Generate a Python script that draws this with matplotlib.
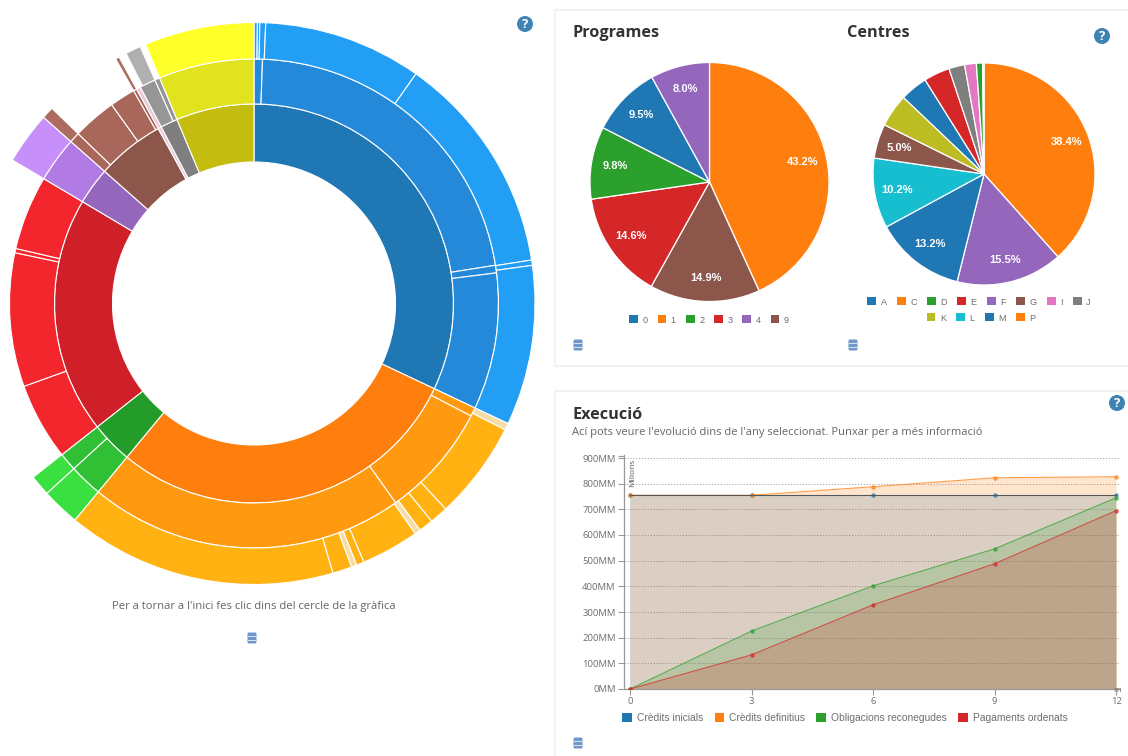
import matplotlib
matplotlib.use("Agg")
import matplotlib.pyplot as plt
from matplotlib.patches import Rectangle, Circle, FancyBboxPatch

W, H = 1128, 756
plt.rcParams['font.family'] = ['Open Sans', 'DejaVu Sans']

# ---------- data ----------
C = dict(blue1='#1f77b4', blue2='#2389d8', blue3='#239ef5',
         or1='#ff7f0e', or2='#ff9a10', or3='#ffb212', orp='#f8dca8',
         gr1='#249c2a', gr2='#30bf35', gr3='#3adf40',
         re1='#cf1f28', re2='#f2262c',
         pu1='#9467bd', pu2='#b27be3', pu3='#c68ffa',
         br1='#8c564b', br2='#a8675a', br3='#ac6d60',
         pk='#ecc9de', gy1='#7f7f7f', gy2='#969696', gy3='#b0b0b0',
         ye1='#c4bd10', ye2='#e2e31f', ye3='#ffff29', gap='none')

ring1_sizes = [115.3, 104.3, 12.2, 68.9, 10.8, 19.8, 1.0, 5.0, 22.7]
ring1_colors = ['blue1', 'or1', 'gr1', 're1', 'pu1', 'br1', 'pk', 'gy1', 'ye1']

ring2_sizes = [2, 79, 1.8, 32.5, 2.1, 27.2, 75, 7.9, 4.3, 18.4, 31.8, 1, 17.7,
               10.8, 2.5, 10.4, 6.1, 0.8, 1.0, 3.8, 1.2, 22.7]
ring2_colors = ['blue2'] * 4 + ['or2'] * 3 + ['gr2'] * 2 + ['re2'] * 4 + \
               ['pu2'] + ['br2'] * 4 + ['pk'] + ['gy2'] * 2 + ['ye2']

ring3_sizes = [.7, .5, 1.2, 32.8, 45.9, 1.1, 33.1,
               1.4, 20.3, 3.8, 3, 1.2, 12, 1.6, 1.1, 4, 55.9,
               7.9, 4.3, 68.9, 10.8, 2.5, 16.5, 0.8, 1.6, 3.2, 1.2, 22.7]
ring3_colors = ['blue3'] * 7 + ['orp', 'or3', 'or3', 'or3', 'orp', 'or3', 'or3', 'orp', 'or3', 'or3'] + \
               ['gr3'] * 2 + ['gap', 'pu3', 'br3', 'gap', 'br3', 'gap', 'gy3', 'gap', 'ye3']

prog_labels = ['1', '9', '3', '2', '0', '4']
prog_values = [43.2, 14.9, 14.6, 9.8, 9.5, 8.0]
prog_colors = ['#ff7f0e', '#8c564b', '#d62728', '#2ca02c', '#1f77b4', '#9467bd']
prog_legend = ['0', '1', '2', '3', '4', '9']

cent_labels = ['P', 'F', 'A', 'L', 'G', 'K', 'M', 'E', 'J', 'I', 'D', 'C']
cent_values = [38.4, 15.5, 13.2, 10.2, 5.0, 4.8, 4.0, 3.8, 2.3, 1.7, 0.9, 0.2]
cent_colors = ['#ff7f0e', '#9467bd', '#1f77b4', '#17becf', '#8c564b', '#bcbd22',
               '#1f77b4', '#d62728', '#7f7f7f', '#e377c2', '#2ca02c', '#ff7f0e']
cent_row1 = ['A', 'C', 'D', 'E', 'F', 'G', 'I', 'J']
cent_row2 = ['K', 'L', 'M', 'P']

months = [0, 3, 6, 9, 12]
inicials = [755, 755, 755, 755, 755]
definitius = [755, 755, 788, 823, 827]
obligacions = [0, 226, 402, 546, 745]
pagaments = [0, 133, 328, 488, 695]
exec_ticks = [0, 100, 200, 300, 400, 500, 600, 700, 800, 900]
exec_names = ['Crèdits inicials', 'Crèdits definitius', 'Obligacions reconegudes', 'Pagaments ordenats']
exec_colors = ['#1f77b4', '#ff7f0e', '#2ca02c', '#d62728']

GREY = '#6e6e6e'
DARK = '#333333'

fig = plt.figure(figsize=(W / 100, H / 100), dpi=100, facecolor='white')


def px_axes(x0, y0, x1, y1, **kw):
    """axes from a pixel box with y measured from the top"""
    return fig.add_axes([x0 / W, 1 - y1 / H, (x1 - x0) / W, (y1 - y0) / H], **kw)


# background layer: panels, texts, icons
bg = px_axes(0, 0, W, H)
bg.set_xlim(0, W)
bg.set_ylim(H, 0)
bg.axis('off')
for (x, y, w, h) in [(555, 10, 580, 356), (555, 391, 580, 375)]:
    bg.add_patch(Rectangle((x, y), w, h, fc='white', ec='#f0f0f0', lw=1.2))


def q_icon(x, y, r=8):
    bg.add_patch(Circle((x, y), r, fc='#3f83b4', ec='none'))
    bg.text(x, y + .3, '?', color='white', fontsize=9.5, fontweight='bold', ha='center', va='center')


def db_icon(x, y):
    bg.add_patch(FancyBboxPatch((x - 4, y - 5), 8, 10, boxstyle='round,pad=0.5,rounding_size=1.5',
                                fc='#6f97c8', ec='none'))
    for dy in (-1.7, 1.7):
        bg.plot([x - 4.5, x + 4.5], [y + dy, y + dy], color='#dbe6f3', lw=.7)


for p in [(525, 24), (1102, 36), (1117, 403)]:
    q_icon(*p)
for p in [(252, 638), (578, 345), (853, 345), (578, 743)]:
    db_icon(*p)

bg.text(254, 607, "Per a tornar a l'inici fes clic dins del cercle de la gràfica",
        color='#666666', fontsize=8.1, ha='center', va='center')
bg.text(572, 33, 'Programes', color=DARK, fontsize=11.7, fontweight='bold', va='center')
bg.text(847, 33, 'Centres', color=DARK, fontsize=11.7, fontweight='bold', va='center')
bg.text(572, 415, 'Execució', color=DARK, fontsize=11.7, fontweight='bold', va='center')
bg.text(572, 432, "Ací pots veure l'evolució dins de l'any seleccionat. Punxar per a més informació",
        color='#666666', fontsize=8.0, va='center')


# sunburst
def pie_axes(cx, cy, r):
    ax = px_axes(cx - r * 1.02, cy - r * 1.02, cx + r * 1.02, cy + r * 1.02)
    return ax


R_OUT, R2, R1, R0 = 281.0, 244.5, 199.5, 141.5
sb = pie_axes(254, 303.5, R_OUT)
for sizes, names, r_o, r_i in [(ring1_sizes, ring1_colors, R1, R0),
                               (ring2_sizes, ring2_colors, R2, R1),
                               (ring3_sizes, ring3_colors, R_OUT, R2)]:
    wedges, _ = sb.pie(sizes, colors=['white'] * len(sizes), radius=r_o / R_OUT, startangle=90, counterclock=False,
                       wedgeprops=dict(width=(r_o - r_i) / R_OUT, edgecolor='#ffffff', linewidth=.8))
    for w, n in zip(wedges, names):
        if n == 'gap':
            w.set_visible(False)
        else:
            w.set_facecolor(C[n])
sb.set_xlim(-1.02, 1.02)
sb.set_ylim(-1.02, 1.02)


# pies
def small_pie(cx, cy, r, values, colors):
    ax = pie_axes(cx, cy, r)
    ax.pie(values, colors=colors, startangle=90, counterclock=False, radius=1,
           autopct=lambda v: f'{v:.1f}%' if v >= 5 else '', pctdistance=.8,
           wedgeprops=dict(edgecolor='white', linewidth=.9),
           textprops=dict(color='white', fontsize=8, fontweight='bold', family=['Liberation Sans']))
    ax.set_xlim(-1.02, 1.02)
    ax.set_ylim(-1.02, 1.02)
    return ax


small_pie(709.5, 182, 119.5, prog_values, prog_colors)
small_pie(984, 174, 111, cent_values, cent_colors)


# legends
def legend(names, colors, cx, cy, colspace, fs=6.6, hand=.95):
    handles = [Rectangle((0, 0), 1, 1, fc=c, ec='none') for c in colors]
    leg = bg.legend(handles, names, loc='center', bbox_to_anchor=(cx, cy), bbox_transform=bg.transData,
                    ncol=len(names), frameon=False, handlelength=hand, handleheight=hand,
                    handletextpad=.5, columnspacing=colspace, borderpad=0, borderaxespad=0,
                    labelcolor=GREY, prop=dict(family='Liberation Sans', size=fs))
    bg.legend_ = None
    bg.add_artist(leg)


lookup_p = dict(zip(prog_labels, prog_colors))
lookup_c = dict(zip(cent_labels, cent_colors))
legend(prog_legend, [lookup_p[k] for k in prog_legend], 709, 320, 1.08)
legend(cent_row1, [lookup_c[k] for k in cent_row1], 979, 302, 1.12)
legend(cent_row2, [lookup_c[k] for k in cent_row2], 981, 318, 1.12)
legend(exec_names, exec_colors, 845, 718, 1.05, fs=7.4)

# execution chart
ex = px_axes(624, 689 - 910 * 231 / 900, 1119, 689)
ex.patch.set_alpha(0)
ex.set_xlim(-0.15, 12.07)
ex.set_ylim(0, 910)
series = [inicials, definitius, obligacions, pagaments]
for s, c in zip(series, exec_colors):
    ex.fill_between(months, s, 0, color=c, alpha=.2, lw=0, zorder=2)
    ex.plot(months, s, color=c, lw=.8, alpha=.75, marker='o', ms=3.2, mew=0, zorder=3)
ex.plot(months, inicials, color='#555555', lw=.7, zorder=3)
ex.set_yticks(exec_ticks)
ex.set_yticks([908], minor=True)
ex.set_yticklabels([f'{t}MM' for t in exec_ticks])
ex.set_xticks(months)
ex.tick_params(labelsize=6.8, labelcolor=GREY, color='#999999', width=.8, length=4, pad=2)
ex.tick_params(which='minor', color='#999999', width=.8, length=4)
ex.grid(axis='y', color='#999999', lw=.6, ls=(0, (1.5, 2)), zorder=1)
for s in ('top', 'right'):
    ex.spines[s].set_visible(False)
for s in ('left', 'bottom'):
    ex.spines[s].set_color('#999999')
    ex.spines[s].set_linewidth(.9)
ex.text(633, 473, 'Milions', transform=bg.transData, rotation=90, fontsize=6, color='#555555',
        ha='center', va='center')
ex.text(1117, 691, 'm', transform=bg.transData, fontsize=6, color='#666666', ha='center', va='center')

fig.savefig('out.png', dpi=100)
